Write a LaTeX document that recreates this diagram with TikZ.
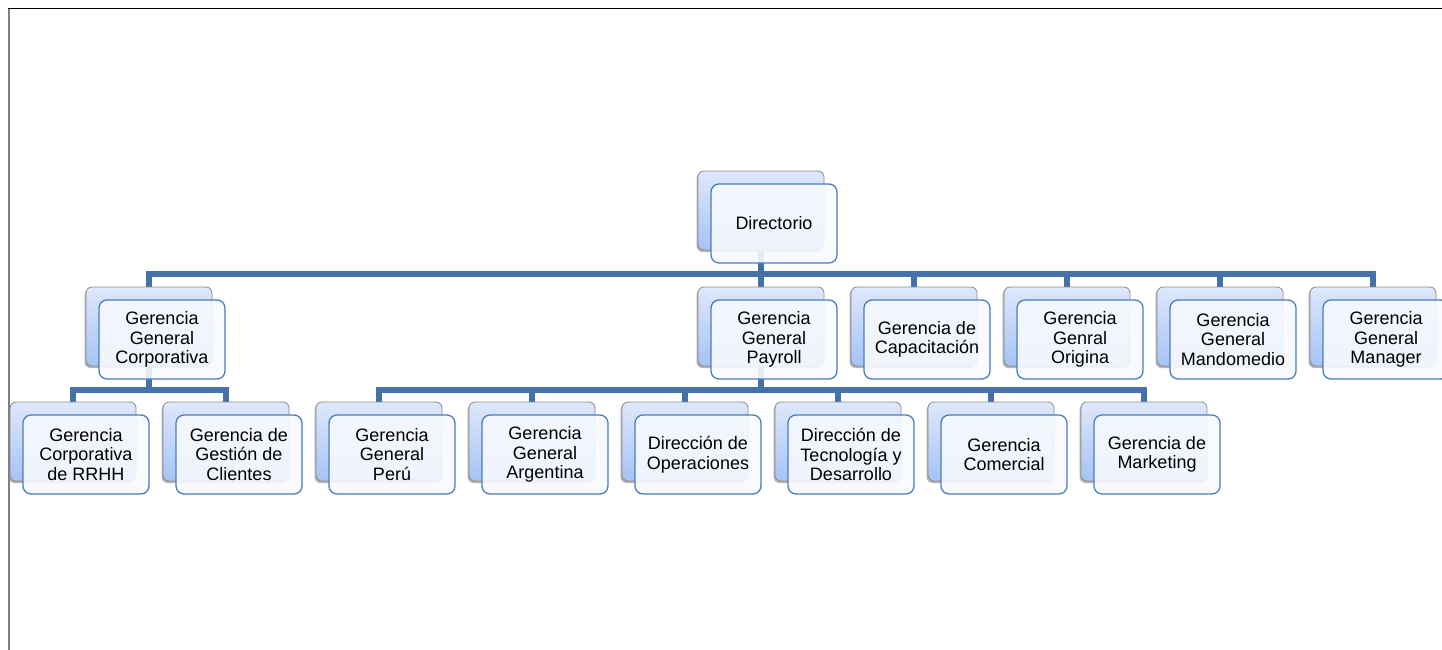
\documentclass[tikz,border=0pt]{standalone}
\usepackage{fontspec}
\setmainfont{Liberation Sans}
\usepackage{tikz}
\usetikzlibrary{shadows}
\usetikzlibrary{calc}

\definecolor{linkblue}{HTML}{4472A8}
\definecolor{frontline}{HTML}{4A7EBB}
\definecolor{frontfill}{HTML}{F7F9FE}
\definecolor{backtop}{HTML}{DFE8FB}
\definecolor{backbottom}{HTML}{A5C3F6}
\definecolor{backline}{HTML}{8A8A8A}

\pgfdeclarelayer{bg}
\pgfsetlayers{bg,main}

\tikzset{
	backbox/.style={draw=backline, line width=0.8pt, rounded corners=6pt,
		top color=backtop, bottom color=backbottom,
		minimum width=126pt, minimum height=79pt, inner sep=0pt,
		drop shadow={shadow xshift=-1.5pt, shadow yshift=-2pt, opacity=0.6, fill=gray}},
	frontbox/.style={draw=frontline, line width=1.3pt, rounded corners=8pt,
		fill=frontfill, fill opacity=0.9, text opacity=1,
		minimum width=126pt, minimum height=79pt, inner sep=0pt,
		align=center, font=\fontsize{18}{19.5}\selectfont},
	conn/.style={draw=linkblue, line width=5.5pt}
}

\newcommand{\drawunit}[4]{%   x, y, name, text
	\node[backbox] (#3b) at (#1 + 63, #2 + 39.5) {};
	\node[frontbox] (#3) at (#1 + 76, #2 + 52.5) {#4};
}
\newcommand{\drawlink}[3]{%   parent, bus, child
	\draw[conn] (#1b.center) |- (#3b.north |- #2) -- (#3b.north);
}

\begin{document}
\begin{tikzpicture}[x=1pt, y=-1pt]
\useasboundingbox (0,0) rectangle (1442,650);

% frame
\draw[black, line width=1pt] (8,9) -- (1442,9);
\draw[gray, line width=2pt] (8.5,9) -- (8.5,650);

% top
\drawunit{698}{171}{dir}{Directorio}

% first row
\drawunit{86}{287}{corp}{Gerencia\\General\\Corporativa}
\drawunit{698}{287}{pay}{Gerencia\\General\\Payroll}
\drawunit{851}{287}{cap}{Gerencia de\\Capacitación}
\drawunit{1004}{287}{ori}{Gerencia\\Genral\\Origina}
\drawunit{1157}{287}{mando}{Gerencia\\General\\Mandomedio}
\drawunit{1310}{287}{mgr}{Gerencia\\General\\Manager}

% second row
\drawunit{10}{402}{rrhh}{Gerencia\\Corporativa\\de RRHH}
\drawunit{163}{402}{cli}{Gerencia de\\Gestión de\\Clientes}
\drawunit{316}{402}{peru}{Gerencia\\General\\Perú}
\drawunit{469}{402}{arg}{Gerencia\\General\\Argentina}
\drawunit{622}{402}{ops}{Dirección de\\Operaciones}
\drawunit{775}{402}{tec}{Dirección de\\Tecnología y\\Desarrollo}
\drawunit{928}{402}{com}{Gerencia\\Comercial}
\drawunit{1081}{402}{mkt}{Gerencia de\\Marketing}

% links
\coordinate (bus1) at (0,274);
\coordinate (bus2) at (0,390);
\begin{pgfonlayer}{bg}
\foreach \c in {corp, pay, cap, ori, mando, mgr}
	\drawlink{dir}{bus1}{\c};
\foreach \c in {rrhh, cli}
	\drawlink{corp}{bus2}{\c};
\foreach \c in {peru, arg, ops, tec, com, mkt}
	\drawlink{pay}{bus2}{\c};
\end{pgfonlayer}
\end{tikzpicture}
\end{document}
